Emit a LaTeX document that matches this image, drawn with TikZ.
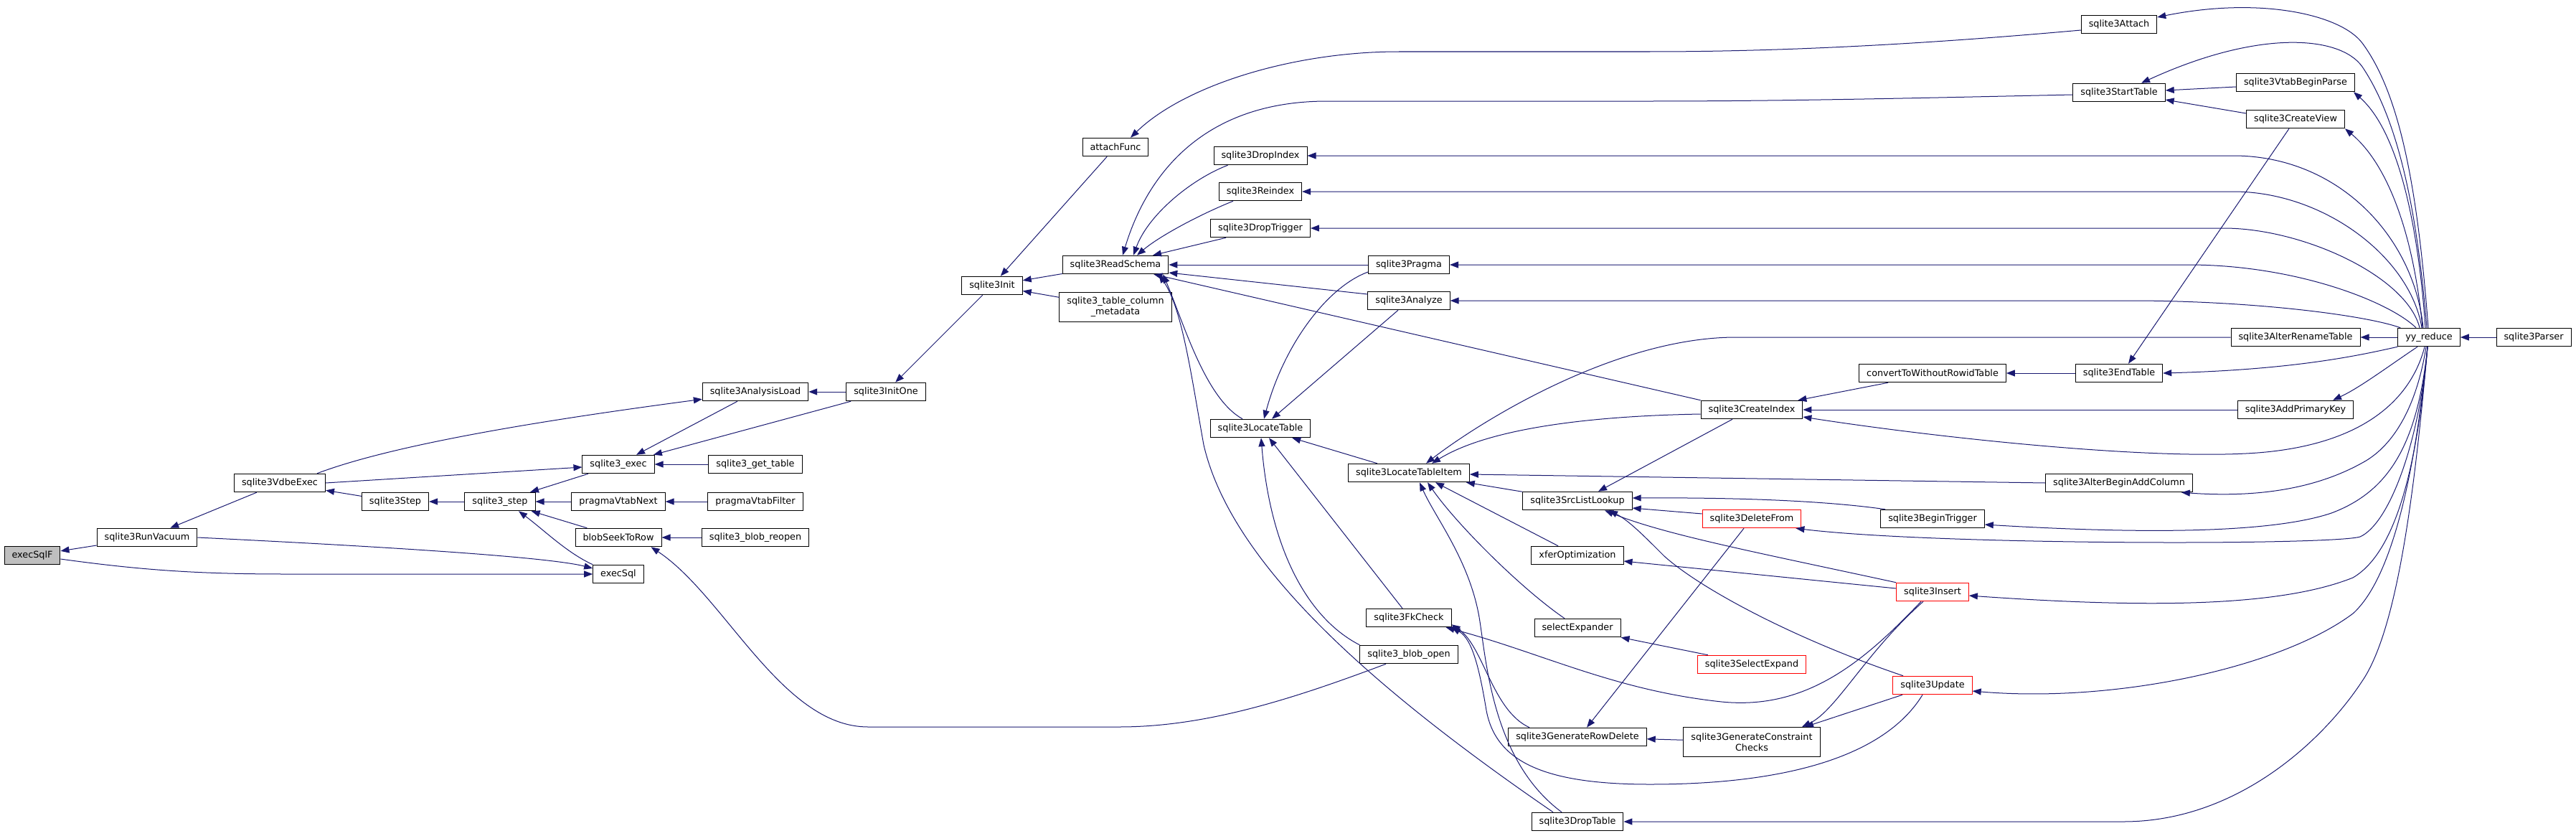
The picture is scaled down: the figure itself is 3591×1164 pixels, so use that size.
\documentclass[tikz,border=0pt]{standalone}
\usepackage{fontspec}
\setmainfont{DejaVu Sans}
\usetikzlibrary{arrows.meta}
\definecolor{edge-blue}{HTML}{191970}
\definecolor{focus-fill}{HTML}{BFBFBF}
\tikzset{
  fn-node/.style={
    draw=black, fill=white, line width=1pt,
    minimum height=25.5pt, inner xsep=10.5pt, inner ysep=1pt,
    align=center, font=\fontsize{12.8}{15}\selectfont
  },
  fn-red/.style={fn-node, draw=red},
  fn-focus/.style={fn-node, fill=focus-fill},
  fn-tall/.style={minimum height=41pt},
  call-edge/.style={-{Triangle[length=12pt, width=9pt]}, line width=1pt, draw=edge-blue}
}

\begin{document}
\begin{tikzpicture}[x=1pt, y=-1pt]
  \useasboundingbox (0,0) rectangle (3591,1164);

  % left part
  \node[fn-focus] (execsqlf)     at (45,774)   {execSqlF};
  \node[fn-node]  (vacuum)       at (205,749)  {sqlite3RunVacuum};
  \node[fn-node]  (vdbe)         at (390,673)  {sqlite3VdbeExec};
  \node[fn-node]  (step)         at (551,699)  {sqlite3Step};
  \node[fn-node]  (sstep)        at (697,699)  {sqlite3\_step};
  \node[fn-node]  (sqlexec)      at (862,647)  {sqlite3\_exec};
  \node[fn-node]  (vtabnext)     at (862,699)  {pragmaVtabNext};
  \node[fn-node]  (blobseek)     at (862,749)  {blobSeekToRow};
  \node[fn-node]  (execsql)      at (862,800)  {execSql};
  \node[fn-node]  (gettable)     at (1053,647) {sqlite3\_get\_table};
  \node[fn-node]  (vtabfilter)   at (1053,699) {pragmaVtabFilter};
  \node[fn-node]  (blobreopen)   at (1053,749) {sqlite3\_blob\_reopen};
  \node[fn-node]  (analysisload) at (1053,546) {sqlite3AnalysisLoad};
  \node[fn-node]  (initone)      at (1235,546) {sqlite3InitOne};
  \node[fn-node]  (init)         at (1383,398) {sqlite3Init};

  % middle part
  \node[fn-node] (attachfunc)   at (1555,205)  {attachFunc};
  \node[fn-node] (readschema)   at (1555,369)  {sqlite3ReadSchema};
  \node[fn-node, fn-tall] (colmeta) at (1555,428) {sqlite3\_table\_column\\\_metadata};
  \node[fn-node] (dropindex)    at (1757,217)  {sqlite3DropIndex};
  \node[fn-node] (reindex)      at (1757,267)  {sqlite3Reindex};
  \node[fn-node] (droptrigger)  at (1757,318)  {sqlite3DropTrigger};
  \node[fn-node] (locatetable)  at (1757,597)  {sqlite3LocateTable};
  \node[fn-node] (pragma)       at (1964,369)  {sqlite3Pragma};
  \node[fn-node] (analyze)      at (1964,419)  {sqlite3Analyze};
  \node[fn-node] (tableitem)    at (1964,659)  {sqlite3LocateTableItem};
  \node[fn-node] (fkcheck)      at (1964,861)  {sqlite3FkCheck};
  \node[fn-node] (blobopen)     at (1964,912)  {sqlite3\_blob\_open};
  \node[fn-node] (srclist)      at (2199,698)  {sqlite3SrcListLookup};
  \node[fn-node] (xfer)         at (2199,774)  {xferOptimization};
  \node[fn-node] (selectexpander) at (2199,875) {selectExpander};
  \node[fn-node] (rowdelete)    at (2199,1027) {sqlite3GenerateRowDelete};
  \node[fn-node] (droptable)    at (2199,1145) {sqlite3DropTable};
  \node[fn-node] (createindex)  at (2442,571)  {sqlite3CreateIndex};
  \node[fn-red]  (deletefrom)   at (2442,723)  {sqlite3DeleteFrom};
  \node[fn-red]  (selectexpand) at (2442,926)  {sqlite3SelectExpand};
  \node[fn-node, fn-tall] (gcc) at (2442,1034) {sqlite3GenerateConstraint\\Checks};

  % right part
  \node[fn-node] (convert)      at (2694,520)  {convertToWithoutRowidTable};
  \node[fn-node] (begintrigger) at (2694,723)  {sqlite3BeginTrigger};
  \node[fn-red]  (insert)       at (2694,825)  {sqlite3Insert};
  \node[fn-red]  (update)       at (2694,955)  {sqlite3Update};
  \node[fn-node] (attach)       at (2954,34)   {sqlite3Attach};
  \node[fn-node] (starttable)   at (2954,129)  {sqlite3StartTable};
  \node[fn-node] (endtable)     at (2954,520)  {sqlite3EndTable};
  \node[fn-node] (alterbegin)   at (2954,673)  {sqlite3AlterBeginAddColumn};
  \node[fn-node] (vtab)         at (3200,115)  {sqlite3VtabBeginParse};
  \node[fn-node] (createview)   at (3200,166)  {sqlite3CreateView};
  \node[fn-node] (alterrename)  at (3200,470)  {sqlite3AlterRenameTable};
  \node[fn-node] (addprimary)   at (3200,571)  {sqlite3AddPrimaryKey};
  \node[fn-node] (yyreduce)     at (3386,470)  {yy\_reduce};
  \node[fn-node] (parser)       at (3532,470)  {sqlite3Parser};

  % edges of the left part
  \draw[call-edge] (vacuum) -- (execsqlf);
  \draw[call-edge] ([shift={(0,5)}]execsqlf.east) .. controls (200,795) and (280,800) .. (400,800) -- (execsql.west);
  \draw[call-edge] (vacuum.east) .. controls (500,760) and (760,775) .. ([shift={(0,-8)}]execsql.west);
  \draw[call-edge] (vdbe) -- (vacuum);
  \draw[call-edge] (step) -- (vdbe);
  \draw[call-edge] (vdbe.east) -- ([shift={(0,4)}]sqlexec.west);
  \draw[call-edge] ([shift={(-12,0)}]vdbe.north east) .. controls (560,615) and (800,580) .. ([shift={(0,-3)}]analysisload.south west);
  \draw[call-edge] (sstep) -- (step);
  \draw[call-edge] (sqlexec) -- (sstep);
  \draw[call-edge] (vtabnext) -- (sstep);
  \draw[call-edge] (blobseek) -- (sstep);
  \draw[call-edge] (execsql.north west) .. controls (790,770) and (760,740) .. ([shift={(26,0)}]sstep.south);
  \draw[call-edge] (gettable) -- (sqlexec);
  \draw[call-edge] (analysisload) -- (sqlexec);
  \draw[call-edge] (initone) -- (sqlexec);
  \draw[call-edge] (vtabfilter) -- (vtabnext);
  \draw[call-edge] (blobreopen) -- (blobseek);
  \draw[call-edge] ([shift={(-32,0)}]blobopen.south) .. controls (1800,975) and (1680,1013) .. (1560,1013) -- (1210,1013)
    .. controls (1090,1013) and (1010,830) .. ([shift={(-15,0)}]blobseek.south east);
  \draw[call-edge] (initone) -- (analysisload);
  \draw[call-edge] (init) -- (initone);
  \draw[call-edge] (attachfunc) -- (init);
  \draw[call-edge] (readschema) -- (init);
  \draw[call-edge] (colmeta) -- (init);

  % edges of the middle part
  \draw[call-edge] ([shift={(0,8)}]attach.west) .. controls (2700,60) and (2500,72) .. (2300,72) -- (1950,72)
    .. controls (1800,72) and (1650,120) .. ([shift={(21,0)}]attachfunc.north);
  \draw[call-edge] ([shift={(0,3)}]starttable.west) .. controls (2700,136) and (2500,141) .. (2300,141) -- (1850,141)
    .. controls (1680,141) and (1600,240) .. ([shift={(10,0)}]readschema.north);
  \draw[call-edge] ([shift={(20,0)}]dropindex.south west) .. controls (1660,250) and (1600,300) .. ([shift={(25,0)}]readschema.north);
  \draw[call-edge] ([shift={(20,0)}]reindex.south west) .. controls (1670,300) and (1615,330) .. ([shift={(30,0)}]readschema.north);
  \draw[call-edge] ([shift={(22,0)}]droptrigger.south west) -- ([shift={(52,0)}]readschema.north);
  \draw[call-edge] (pragma) -- (readschema);
  \draw[call-edge] ([shift={(0,-9)}]analyze.west) -- ([shift={(0,11)}]readschema.east);
  \draw[call-edge] (createindex.north west) -- ([shift={(-21,0)}]readschema.south east);
  \draw[call-edge] ([shift={(-25,0)}]locatetable.north) .. controls (1680,555) and (1650,450) .. ([shift={(-8,0)}]readschema.south east);
  \draw[call-edge] ([shift={(-34,0)}]droptable.north) .. controls (1900,950) and (1715,780) .. (1678,620)
    .. controls (1660,520) and (1648,430) .. ([shift={(-14,0)}]readschema.south east);
  \draw[call-edge] ([shift={(0,10)}]pragma.west) .. controls (1850,400) and (1790,480) .. ([shift={(5,0)}]locatetable.north);
  \draw[call-edge] ([shift={(-15,0)}]analyze.south) -- ([shift={(16,0)}]locatetable.north);
  \draw[call-edge] (tableitem) -- (locatetable);
  \draw[call-edge] ([shift={(-9,0)}]fkcheck.north) -- ([shift={(12,0)}]locatetable.south);
  \draw[call-edge] (blobopen.north west) .. controls (1820,860) and (1770,760) .. ([shift={(1,0)}]locatetable.south);
  \draw[call-edge] (alterrename.west) -- (2420,470) .. controls (2250,470) and (2060,590) .. ([shift={(24,0)}]tableitem.north);
  \draw[call-edge] ([shift={(0,6)}]createindex.west) .. controls (2200,580) and (2070,600) .. ([shift={(32,0)}]tableitem.north);
  \draw[call-edge] (alterbegin.west) -- ([shift={(0,2)}]tableitem.east);
  \draw[call-edge] (srclist) -- (tableitem);
  \draw[call-edge] ([shift={(-27,0)}]xfer.north) -- ([shift={(37,0)}]tableitem.south);
  \draw[call-edge] ([shift={(-18,0)}]selectexpander.north) .. controls (2120,820) and (2030,730) .. ([shift={(26,0)}]tableitem.south);
  \draw[call-edge] ([shift={(-22,0)}]droptable.north) .. controls (2080,1060) and (2072,920) .. (2062,860)
    .. controls (2048,780) and (2000,720) .. ([shift={(15,0)}]tableitem.south);
  \draw[call-edge] ([shift={(-14,0)}]update.south) .. controls (2630,1050) and (2500,1093) .. (2300,1093)
    .. controls (2150,1093) and (2085,1060) .. (2072,990) .. controls (2062,930) and (2052,890) .. (fkcheck.south east);
  \draw[call-edge] ([shift={(-67,0)}]rowdelete.north) .. controls (2080,990) and (2068,900) .. ([shift={(0,-4)}]fkcheck.south east);
  \draw[call-edge] ([shift={(-16,0)}]insert.south) .. controls (2600,920) and (2520,990) .. (2400,978)
    .. controls (2250,962) and (2150,910) .. ([shift={(-8,0)}]fkcheck.south east);
  \draw[call-edge] ([shift={(-27,0)}]createindex.south) -- ([shift={(29,0)}]srclist.north);
  \draw[call-edge] ([shift={(0,-7)}]deletefrom.west) -- ([shift={(0,10)}]srclist.east);
  \draw[call-edge] ([shift={(-66,0)}]begintrigger.north) .. controls (2560,700) and (2450,693) .. ([shift={(0,-4)}]srclist.east);
  \draw[call-edge] (insert.north west) .. controls (2450,770) and (2320,745) .. ([shift={(38,0)}]srclist.south);
  \draw[call-edge] ([shift={(-41,0)}]update.north) .. controls (2500,890) and (2370,820) .. (2320,775)
    .. controls (2290,745) and (2270,725) .. ([shift={(44,0)}]srclist.south);
  \draw[call-edge] ([shift={(0,-5)}]insert.west) -- ([shift={(0,8)}]xfer.east);
  \draw[call-edge] ([shift={(15,0)}]selectexpand.north west) -- (selectexpander.south east);
  \draw[call-edge] ([shift={(-11,0)}]deletefrom.south) -- ([shift={(13,0)}]rowdelete.north);
  \draw[call-edge] (gcc) -- (rowdelete);
  \draw[call-edge] ([shift={(-13,0)}]insert.south) .. controls (2600,910) and (2560,990) .. ([shift={(70,0)}]gcc.north);
  \draw[call-edge] ([shift={(-42,0)}]update.south) -- ([shift={(74,0)}]gcc.north);

  % edges of the right part
  \draw[call-edge] ([shift={(-62,0)}]convert.south) -- ([shift={(-7,0)}]createindex.north east);
  \draw[call-edge] (addprimary) -- (createindex);
  \draw[call-edge] (endtable) -- (convert);
  \draw[call-edge] ([shift={(-9,0)}]createview.south) -- ([shift={(13,0)}]endtable.north);
  \draw[call-edge] ([shift={(0,6)}]vtab.west) -- ([shift={(0,-3)}]starttable.east);
  \draw[call-edge] ([shift={(0,-8)}]createview.west) -- ([shift={(0,10)}]starttable.east);
  \draw[call-edge] (parser) -- (yyreduce);
  \draw[call-edge] (yyreduce) -- (alterrename);

  % yy_reduce fan, upper half
  \draw[call-edge] ([shift={(-1,0)}]yyreduce.north) .. controls (3370,260) and (3345,130) .. (3293,60)
    .. controls (3263,20) and (3150,-5) .. ([shift={(0,-10)}]attach.east);
  \draw[call-edge] ([shift={(-3,0)}]yyreduce.north) .. controls (3370,300) and (3345,170) .. (3293,93)
    .. controls (3263,50) and (3150,40) .. ([shift={(31,0)}]starttable.north);
  \draw[call-edge] ([shift={(-5,0)}]yyreduce.north) .. controls (3370,300) and (3340,180) .. ([shift={(-2,0)}]vtab.south east);
  \draw[call-edge] ([shift={(-9,0)}]yyreduce.north) .. controls (3365,330) and (3330,230) .. (createview.south east);
  \draw[call-edge] ([shift={(-8,0)}]yyreduce.north) .. controls (3365,330) and (3260,217) .. (3113,217) -- (dropindex.east);
  \draw[call-edge] ([shift={(-10,0)}]yyreduce.north) .. controls (3360,359) and (3240,267) .. (3113,267) -- (reindex.east);
  \draw[call-edge] ([shift={(-13,0)}]yyreduce.north) .. controls (3355,385) and (3210,318) .. (3100,318) -- (droptrigger.east);
  \draw[call-edge] ([shift={(-18,0)}]yyreduce.north) .. controls (3330,420) and (3200,369) .. (3050,369) -- (pragma.east);
  \draw[call-edge] ([shift={(4,0)}]yyreduce.north west) .. controls (3300,440) and (3150,420) .. (2980,419) -- (analyze.east);

  % yy_reduce fan, lower half
  \draw[call-edge] (yyreduce.south west) .. controls (3290,495) and (3200,515) .. (endtable.east);
  \draw[call-edge] ([shift={(-16,0)}]yyreduce.south) .. controls (3330,510) and (3290,540) .. ([shift={(52,0)}]addprimary.north);
  \draw[call-edge] ([shift={(-6,0)}]yyreduce.south) .. controls (3360,560) and (3290,620) .. (3147,631)
    .. controls (3000,642) and (2700,610) .. ([shift={(0,10)}]createindex.east);
  \draw[call-edge] ([shift={(-4,0)}]yyreduce.south) .. controls (3370,560) and (3340,620) .. (3293,645)
    .. controls (3230,680) and (3150,694) .. ([shift={(-16,0)}]alterbegin.south east);
  \draw[call-edge] ([shift={(-2,0)}]yyreduce.south) .. controls (3370,620) and (3330,685) .. (3250,715)
    .. controls (3170,742) and (3000,745) .. ([shift={(0,8)}]begintrigger.east);
  \draw[call-edge] ([shift={(-2,0)}]yyreduce.south) .. controls (3372,620) and (3330,730) .. (3290,748)
    .. controls (3250,760) and (2700,760) .. ([shift={(-8,0)}]deletefrom.south east);
  \draw[call-edge] ([shift={(-2,0)}]yyreduce.south) .. controls (3370,650) and (3340,770) .. (3280,805)
    .. controls (3180,845) and (3000,848) .. ([shift={(0,5)}]insert.east);
  \draw[call-edge] ([shift={(-2,0)}]yyreduce.south) .. controls (3365,680) and (3330,810) .. (3280,855)
    .. controls (3180,930) and (2950,980) .. ([shift={(0,8)}]update.east);
  \draw[call-edge] ([shift={(-2,0)}]yyreduce.south) .. controls (3365,700) and (3340,880) .. (3293,949)
    .. controls (3240,1030) and (3120,1145) .. (2960,1145) -- (droptable.east);
\end{tikzpicture}
\end{document}
